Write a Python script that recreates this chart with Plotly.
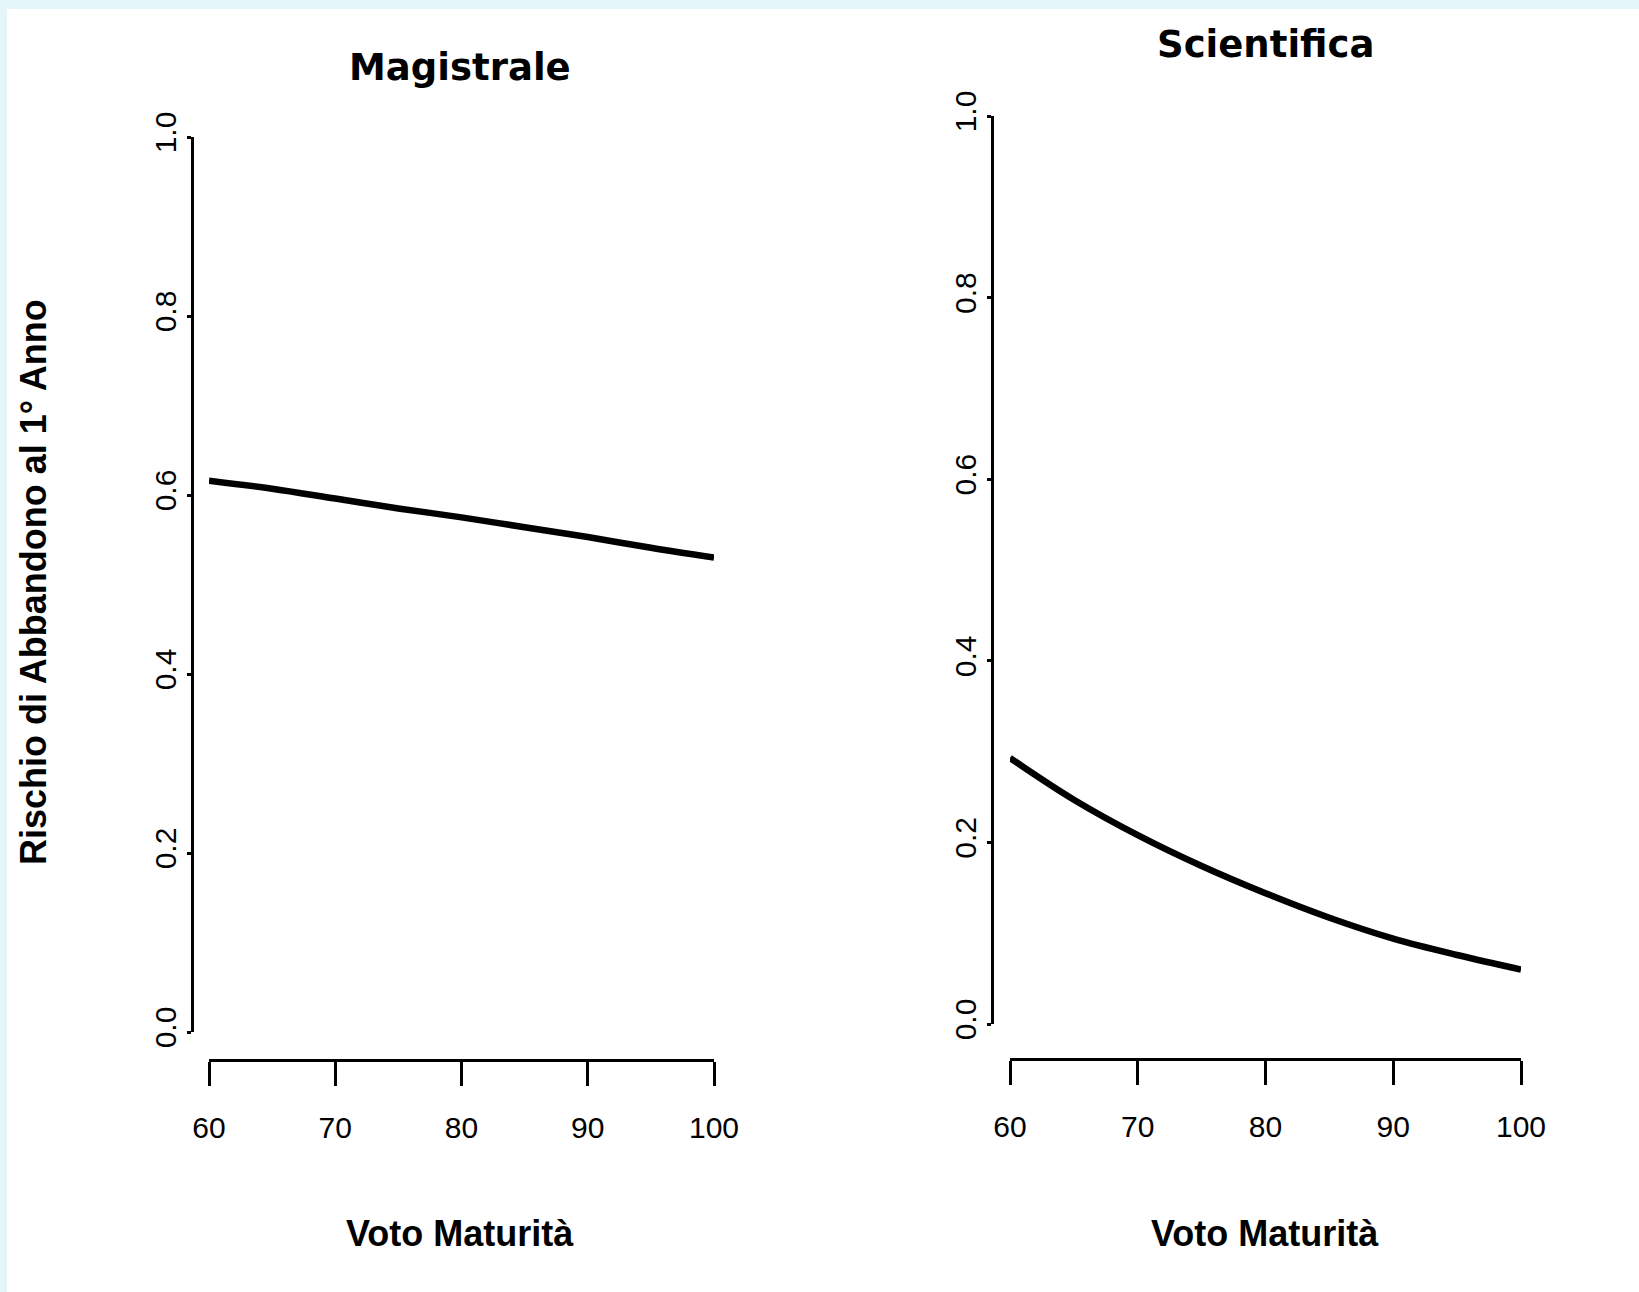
import plotly.graph_objects as go

# data
voto = [60, 65, 70, 75, 80, 85, 90, 95, 100]
rischio_magistrale = [0.616, 0.607, 0.596, 0.585, 0.575, 0.564, 0.553, 0.541, 0.530]
rischio_scientifica = [0.293, 0.247, 0.208, 0.174, 0.144, 0.117, 0.094, 0.076, 0.060]

titoli = ["Magistrale", "Scientifica"]
x_title = "Voto Maturità"
y_title = "Rischio di Abbandono al 1° Anno"
x_ticks = [60, 70, 80, 90, 100]
y_ticks = [0.0, 0.2, 0.4, 0.6, 0.8, 1.0]

W, H = 1639, 1292


def px(x):
    return x / W


def py(y):
    return 1 - y / H


tick_font = dict(family="Liberation Sans Narrow, Liberation Sans, Arial", size=30, color="black")
bold_font = dict(family="Liberation Sans, Arial", size=36, color="black")
title_font = dict(family="DejaVu Sans, Verdana", size=37, color="black")

fig = go.Figure()
fig.add_trace(go.Scatter(x=voto, y=rischio_magistrale, mode="lines", xaxis="x", yaxis="y",
                         line=dict(color="black", width=6.5, shape="spline")))
fig.add_trace(go.Scatter(x=voto, y=rischio_scientifica, mode="lines", xaxis="x2", yaxis="y2",
                         line=dict(color="black", width=6.5, shape="spline")))

xax = dict(range=[60, 100], tickvals=x_ticks, ticks="outside", ticklen=24, tickwidth=3,
           showline=True, linewidth=3, linecolor="black", tickcolor="black",
           showgrid=False, zeroline=False, tickfont=tick_font, ticklabelstandoff=16,
           anchor="free", fixedrange=True)
yax = dict(range=[0, 1], tickvals=y_ticks, tickformat=".1f", ticks="outside", ticklen=4,
           tickwidth=3, showline=True, linewidth=3, linecolor="black", tickcolor="black",
           showgrid=False, zeroline=False, tickfont=tick_font, tickangle=-90,
           ticklabelstandoff=-1, anchor="free", fixedrange=True)

fig.update_layout(
    width=W, height=H,
    margin=dict(l=0, r=0, t=0, b=0, autoexpand=False),
    paper_bgcolor="#e4f6fa",
    plot_bgcolor="rgba(0,0,0,0)",
    showlegend=False,
    xaxis=dict(xax, domain=[px(209), px(714)], position=py(1060)),
    yaxis=dict(yax, domain=[py(1032), py(137)], position=px(192)),
    xaxis2=dict(xax, domain=[px(1010), px(1521)], position=py(1059)),
    yaxis2=dict(yax, domain=[py(1024), py(116)], position=px(992)),
    shapes=[dict(type="rect", xref="paper", yref="paper", x0=px(7), x1=1, y0=0, y1=py(9),
                 fillcolor="white", line=dict(width=0), layer="below")],
)

annotations = [
    dict(text=titoli[0], x=px(460), y=py(68), font=title_font),
    dict(text=titoli[1], x=px(1265), y=py(45), font=title_font),
    dict(text=x_title, x=px(460), y=py(1233), font=bold_font),
    dict(text=x_title, x=px(1265), y=py(1233), font=bold_font),
    dict(text=y_title, x=px(33), y=py(582), font=bold_font, textangle=-90),
]
for a in annotations:
    a["text"] = "<b>" + a["text"] + "</b>"
    fig.add_annotation(xref="paper", yref="paper", showarrow=False,
                       xanchor="center", yanchor="middle", **a)

fig.write_html("out.html", config={"displayModeBar": False},
               post_script="document.body.style.margin='0';")
